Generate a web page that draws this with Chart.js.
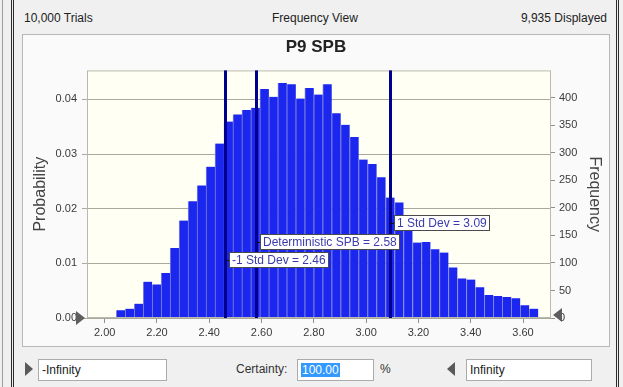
<!DOCTYPE html>
<html>
<head>
<meta charset="utf-8">
<script src="https://cdn.jsdelivr.net/npm/chart.js@4.4.1/dist/chart.umd.min.js"></script>
<style>
  html, body { margin: 0; padding: 0; }
  body { width: 623px; height: 387px; background: #f0f0f0; position: relative; overflow: hidden;
         font-family: "Liberation Sans", Arial, sans-serif; font-size: 12px; color: #222; }
  .abs { position: absolute; }
  .side { left: 2px; top: 0; width: 1px; height: 387px; background: #9c9c9c; }
  .edge { top: 0; height: 387px; border-left: 3px double #2b2b2b; }
  .panel { left: 22px; top: 34px; width: 586px; height: 311px; border: 1px solid #b8b8b8; background: #fafafa; }
  .box { top: 359px; height: 20px; border: 1px solid #ababab; background: #fff; line-height: 20px; padding-left: 3px; box-sizing: content-box; }
  .tri-r { width: 0; height: 0; border-top: 7px solid transparent; border-bottom: 7px solid transparent; border-left: 8px solid #5a5a5a; }
  .tri-l { width: 0; height: 0; border-top: 7px solid transparent; border-bottom: 7px solid transparent; border-right: 8px solid #5a5a5a; }
  .sel { background: #3399ff; color: #fff; padding: 0 1px; }
  #chart { position: absolute; left: 22px; top: 35px; }
</style>
</head>
<body>
<div class="abs side"></div>
<div class="abs edge" style="left:11px"></div>
<div class="abs edge" style="left:616px"></div>

<div class="abs" style="left:24px;top:11px">10,000 Trials</div>
<div class="abs" style="left:272px;top:11px">Frequency View</div>
<div class="abs" style="right:16px;top:11px">9,935 Displayed</div>

<div class="abs panel"></div>
<canvas id="chart" width="588" height="311"></canvas>

<div class="abs tri-r" style="left:25px;top:362px"></div>
<div class="abs box" style="left:38px;width:124px">-Infinity</div>
<div class="abs" style="left:236px;top:362px;color:#333">Certainty:</div>
<div class="abs box" style="left:297px;width:72px"><span class="sel">100.00</span></div>
<div class="abs" style="left:380px;top:362px;color:#333">%</div>
<div class="abs tri-l" style="left:447px;top:362px"></div>
<div class="abs box" style="left:466px;width:121px">Infinity</div>

<script>
  var trials = 9935;
  var binStart = 1.9755,
    binWidth = 0.03434;
  var frequencies = [1, 1, 14, 17, 26, 66, 61, 82, 127, 177, 212, 241, 275, 317, 357, 370, 378, 382, 416, 402,
    427, 425, 399, 418, 406, 425, 372, 351, 329, 288, 280, 256, 219, 210, 172, 137, 138, 125, 119, 92,
    72, 70, 56, 42, 40, 38, 36, 23, 17];
  var xTicks = [2.0, 2.2, 2.4, 2.6, 2.8, 3.0, 3.2, 3.4, 3.6];
  var probTicks = [0, 0.01, 0.02, 0.03, 0.04];
  var freqTicks = [0, 50, 100, 150, 200, 250, 300, 350, 400];
  var markerNames = ["-1 Std Dev", "Deterministic SPB", "1 Std Dev"];
  var markerValues = [2.46, 2.58, 3.09];
  var markerLabelFreq = [106, 138, 172];
  var xMin = 1.9323,
    xMax = 3.707,
    freqMax = 450;

  (function () {
    var fam = "'Liberation Sans', Arial, sans-serif";
    var tc = "#3a3a3a",
      gc = "#a9a99c";

    function fixTicks(list) {
      return function (scale) {
        scale.ticks = list.map(function (v) {
          return { value: v };
        });
      };
    }

    function tri(c, x, y, dir) {
      c.beginPath();
      c.moveTo(x, y - 7);
      c.lineTo(x, y + 7);
      c.lineTo(x + dir * 9, y);
      c.closePath();
      c.fillStyle = "#5e5e5e";
      c.fill();
    }

    var decor = {
      id: "decor",
      beforeDraw: function (chart) {
        var a = chart.chartArea,
          c = chart.ctx;
        c.save();
        c.fillStyle = "#fffff3";
        c.fillRect(a.left, a.top, a.right - a.left, a.bottom - a.top);
        c.restore();
      },
      afterDatasetsDraw: function (chart) {
        var a = chart.chartArea,
          c = chart.ctx,
          xs = chart.scales.x,
          ys = chart.scales.yF;
        c.save();
        c.strokeStyle = "#b9b9ae";
        c.lineWidth = 1;
        c.strokeRect(a.left + 0.5, a.top + 0.5, a.right - a.left - 1, a.bottom - a.top - 1);

        markerValues.forEach(function (v) {
          var px = xs.getPixelForValue(v);
          c.fillStyle = "#00008e";
          c.fillRect(Math.round(px) - 1, a.top, 3, a.bottom - a.top);
        });

        c.font = "12px " + fam;
        c.textBaseline = "middle";
        markerValues.forEach(function (v, i) {
          var px = Math.round(xs.getPixelForValue(v));
          var py = Math.round(ys.getPixelForValue(markerLabelFreq[i]));
          var txt = markerNames[i] + " = " + v.toFixed(2);
          var w = Math.round(c.measureText(txt).width) + 6,
            h = 16;
          var bx = px + 4,
            by = py - h / 2;
          c.fillStyle = "#111";
          c.fillRect(px + 1, py, 3, 1);
          c.fillStyle = "#fff";
          c.fillRect(bx, by, w, h);
          c.strokeStyle = "#4a4a4a";
          c.strokeRect(bx + 0.5, by + 0.5, w - 1, h - 1);
          c.fillStyle = "#3b3bab";
          c.fillText(txt, bx + 3, by + h / 2 + 1);
        });

        tri(c, a.left - 11, a.bottom, 1);
        tri(c, a.right + 11, a.bottom - 3, -1);
        c.restore();
      },
    };

    var el = document.getElementById("chart");
    new Chart(el, {
      type: "bar",
      data: {
        datasets: [
          {
            data: frequencies.map(function (f, i) {
              return { x: binStart + (i + 0.5) * binWidth, y: f };
            }),
            xAxisID: "x",
            yAxisID: "yF",
            backgroundColor: "#1b27ee",
            borderColor: "#8185dc",
            borderWidth: { left: 1, right: 0, top: 0, bottom: 0 },
            barPercentage: 1,
            categoryPercentage: 1,
          },
        ],
      },
      options: {
        responsive: false,
        animation: false,
        devicePixelRatio: 1,
        layout: { padding: 0 },
        plugins: {
          legend: { display: false },
          tooltip: { enabled: false },
          title: {
            display: true,
            text: "P9 SPB",
            color: "#222",
            font: { family: fam, size: 17, weight: "bold" },
            padding: { top: 2, bottom: 13 },
          },
        },
        scales: {
          x: {
            type: "linear",
            position: "bottom",
            offset: false,
            min: xMin,
            max: xMax,
            afterBuildTicks: fixTicks(xTicks),
            afterFit: function (s) {
              s.height = 28;
            },
            border: { display: false },
            grid: { offset: false, drawOnChartArea: false, tickLength: 5, color: "#8f8f8f" },
            ticks: {
              color: tc,
              font: { family: fam, size: 11 },
              padding: 3,
              autoSkip: false,
              maxRotation: 0,
              callback: function (v) {
                return Number(v).toFixed(2);
              },
            },
          },
          yP: {
            type: "linear",
            position: "left",
            min: 0,
            max: freqMax / trials,
            afterBuildTicks: fixTicks(probTicks),
            afterFit: function (s) {
              s.width = 65;
            },
            border: { display: false },
            grid: { color: gc, tickLength: 5 },
            title: { display: true, text: "Probability", color: "#444", font: { family: fam, size: 16 }, padding: { top: 9, bottom: 0 } },
            ticks: {
              color: tc,
              font: { family: fam, size: 11 },
              padding: 5,
              callback: function (v) {
                return Number(v).toFixed(2);
              },
            },
          },
          yF: {
            type: "linear",
            position: "right",
            min: 0,
            max: freqMax,
            afterBuildTicks: fixTicks(freqTicks),
            afterFit: function (s) {
              s.width = 59;
            },
            border: { display: false },
            grid: { drawOnChartArea: false, tickLength: 4, color: "#8f8f8f" },
            title: { display: true, text: "Frequency", color: "#444", font: { family: fam, size: 16 }, padding: { top: 6, bottom: 0 } },
            ticks: {
              color: tc,
              font: { family: fam, size: 11 },
              padding: 4,
              callback: function (v) {
                return String(v);
              },
            },
          },
        },
      },
      plugins: [decor],
    });
  })();
</script>
</body>
</html>
